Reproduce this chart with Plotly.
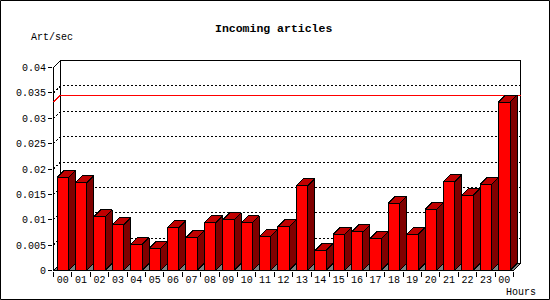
import plotly.graph_objects as go

# ---------------- data ----------------
hours = ["00", "01", "02", "03", "04", "05", "06", "07", "08", "09", "10", "11",
         "12", "13", "14", "15", "16", "17", "18", "19", "20", "21", "22", "23", "00"]
articles_per_sec = [0.0183, 0.0173, 0.0106, 0.0090, 0.0051, 0.0043, 0.0084, 0.0065,
                    0.0094, 0.0100, 0.0094, 0.0067, 0.0086, 0.0167, 0.0039, 0.0071,
                    0.0076, 0.0063, 0.0132, 0.0071, 0.0120, 0.0175, 0.0148, 0.0170,
                    0.0332]
y_tick_values = [0, 0.005, 0.01, 0.015, 0.02, 0.025, 0.03, 0.035, 0.04]
y_tick_labels = ["0", "0.005", "0.01", "0.015", "0.02", "0.025", "0.03", "0.035", "0.04"]
title_text = "Incoming articles"
y_unit_text = "Art/sec"
x_unit_text = "Hours"

# ---------------- layout constants ----------------
W, H = 550, 300
ML, MR, MT, MB = 53, 29, 60, 29
DOM_W = W - ML - MR          # 468
DOM_H = H - MT - MB          # 211
PX_PER_CAT = 18.4
Y_MAX = y_tick_values[-1]
PX_PER_UNIT = 203.0 / Y_MAX
DEPTH = 7.0
BAR_W = 0.62

n = len(hours)
dx = DEPTH / PX_PER_CAT
dy = DEPTH / PX_PER_UNIT
x_lo = -0.5 - 0.5 / PX_PER_CAT
x_hi = x_lo + DOM_W / PX_PER_CAT
y_lo = -0.5 / PX_PER_UNIT
y_hi = y_lo + DOM_H / PX_PER_UNIT
xl, xr = -0.5, n - 0.5

FONT = "Liberation Mono"
RED, TOP_RED, DARK_RED, GRAY = "#ff0000", "#c00000", "#800000", "#808080"


def px2paper_x(px):
    return (px - ML) / DOM_W


def px2paper_y(py):
    return (H - MB - py) / DOM_H


def poly_trace(polys, fill, line_color="black", width=1, dash=None, closed=True):
    xs, ys = [], []
    for p in polys:
        for (a, b) in p:
            xs.append(a)
            ys.append(b)
        if closed:
            xs.append(p[0][0])
            ys.append(p[0][1])
        xs.append(None)
        ys.append(None)
    return go.Scatter(
        x=xs, y=ys, mode="lines",
        fill="toself" if fill else None,
        fillcolor=fill,
        line=dict(color=line_color, width=width, dash=dash),
        hoverinfo="skip", showlegend=False,
    )


fig = go.Figure()

# floor
fig.add_trace(poly_trace([[(xl, 0), (xr, 0), (xr + dx, dy), (xl + dx, dy)]], GRAY))

# dotted grid lines (left wall diagonal + back wall)
grid = []
for t in y_tick_values[1:-1]:
    grid.append([(xl, t), (xl + dx, t + dy), (xr + dx, t + dy)])
fig.add_trace(poly_trace(grid, None, dash="2px,2px", closed=False))

# walls outline
walls = [
    [(xl, 0), (xl, Y_MAX), (xl + dx, Y_MAX + dy), (xr + dx, Y_MAX + dy), (xr + dx, dy), (xr, 0)],
    [(xl + dx, dy), (xl + dx, Y_MAX + dy)],
    [(xl, 0), (xr, 0)],
]
fig.add_trace(poly_trace(walls, None, closed=False))

# max line
m = max(articles_per_sec)
fig.add_trace(poly_trace([[(xl, m), (xl + dx, m + dy), (xr + dx, m + dy)]], None,
                         line_color=RED, closed=False))

# bars
fronts, sides, tops = [], [], []
for i, v in enumerate(articles_per_sec):
    a, b = i - BAR_W / 2, i + BAR_W / 2
    fronts.append([(a, 0), (b, 0), (b, v), (a, v)])
    sides.append([(b, 0), (b + dx, dy), (b + dx, v + dy), (b, v)])
    tops.append([(a, v), (a + dx, v + dy), (b + dx, v + dy), (b, v)])
fig.add_trace(poly_trace(sides, DARK_RED))
fig.add_trace(poly_trace(tops, TOP_RED))
fig.add_trace(poly_trace(fronts, RED))

fig.update_layout(
    width=W, height=H,
    margin=dict(l=ML, r=MR, t=MT, b=MB, pad=0),
    paper_bgcolor="white", plot_bgcolor="white",
    showlegend=False,
    font=dict(family=FONT, size=10, color="black"),
    xaxis=dict(
        range=[x_lo, x_hi], tickmode="array", tickvals=list(range(n)), ticktext=hours,
        ticks="", showgrid=False, zeroline=False, showline=False, fixedrange=True,
        ticklabelstandoff=1,
        tickfont=dict(family=FONT, size=10, color="black"),
        minor=dict(tickmode="array", tickvals=[i - 0.5 for i in range(n + 1)],
                   ticks="outside", ticklen=5, tickcolor="black", tickwidth=1,
                   showgrid=False),
    ),
    yaxis=dict(
        range=[y_lo, y_hi], tickmode="array", tickvals=y_tick_values, ticktext=y_tick_labels,
        ticks="outside", ticklen=4, tickcolor="black", tickwidth=1,
        showgrid=False, zeroline=False, showline=False, fixedrange=True,
        tickfont=dict(family=FONT, size=10, color="black"),
    ),
    shapes=[dict(type="rect", xref="paper", yref="paper",
                 x0=px2paper_x(0.5), x1=px2paper_x(549.5),
                 y0=px2paper_y(299.5), y1=px2paper_y(0.5),
                 line=dict(color="black", width=1), layer="above")],
    annotations=[
        dict(text="<b>" + title_text + "</b>", xref="paper", yref="paper",
             x=px2paper_x(273.5), y=px2paper_y(28), xanchor="center", yanchor="middle",
             showarrow=False, font=dict(family=FONT, size=11.5, color="black")),
        dict(text=y_unit_text, xref="paper", yref="paper",
             x=px2paper_x(29), y=px2paper_y(37), xanchor="left", yanchor="middle",
             showarrow=False, font=dict(family=FONT, size=10, color="black")),
        dict(text=x_unit_text, xref="paper", yref="paper",
             x=px2paper_x(504), y=px2paper_y(292), xanchor="left", yanchor="middle",
             showarrow=False, font=dict(family=FONT, size=10, color="black")),
    ],
)

# render lines without anti-aliasing, like the original bitmap chart
crisp_js = (
    "document.querySelectorAll('.scatterlayer path').forEach("
    "function(p){p.style.shapeRendering='crispEdges';});"
)
fig.write_html("out.html", post_script=crisp_js)
